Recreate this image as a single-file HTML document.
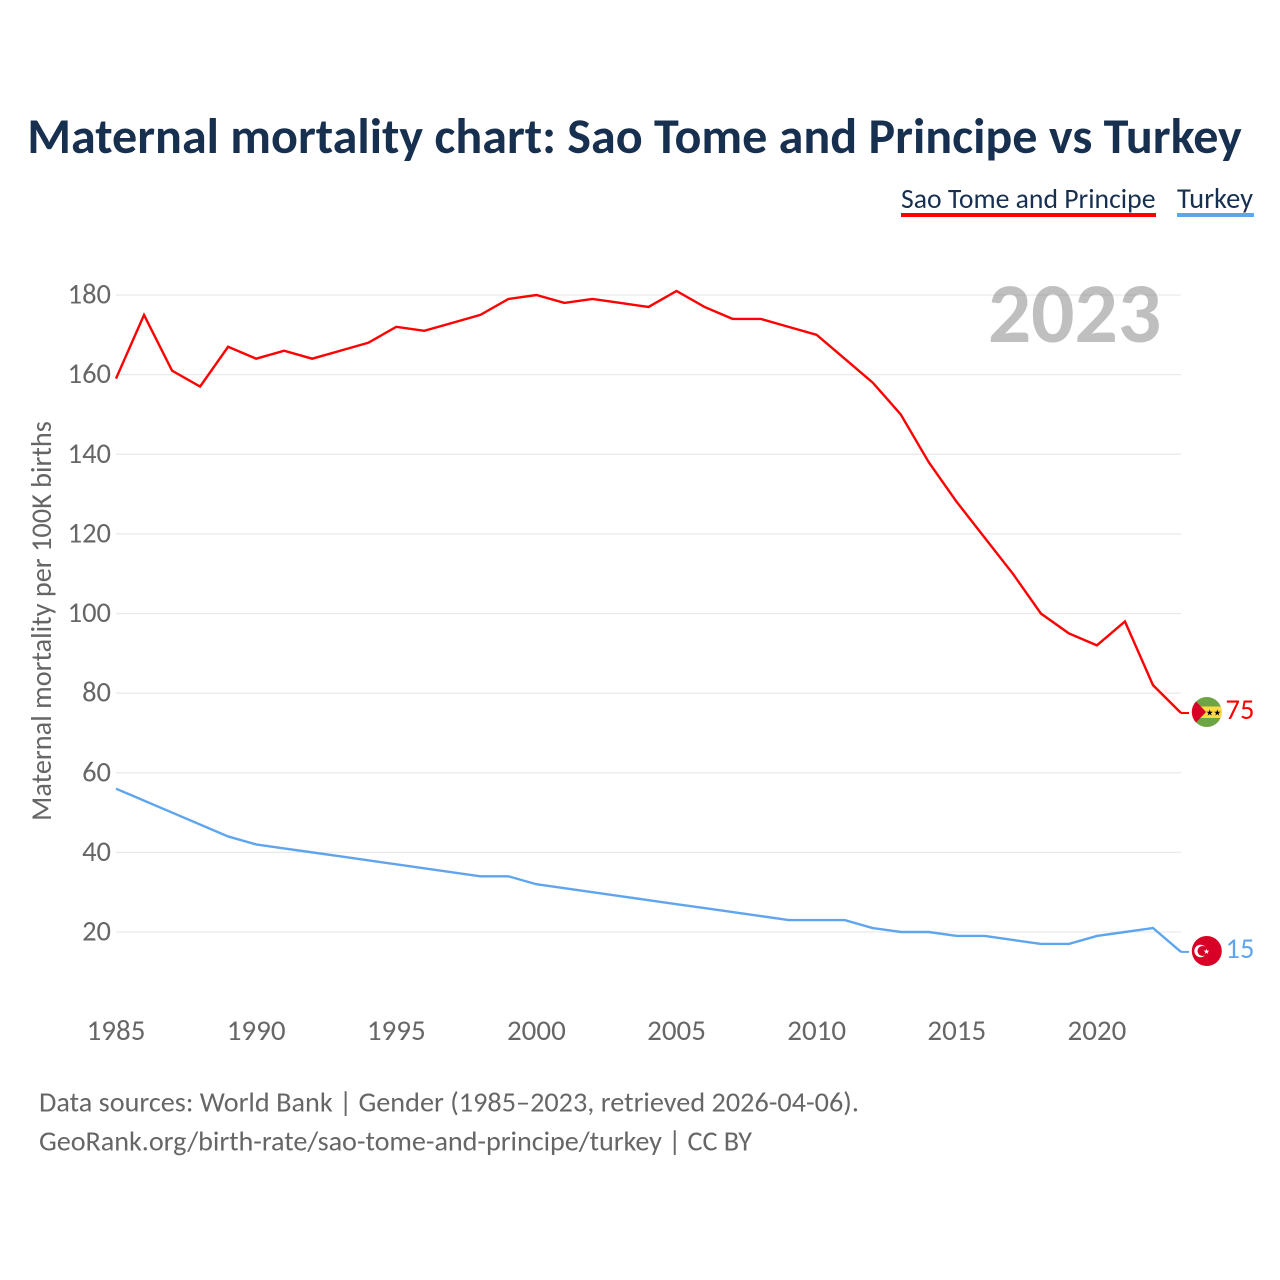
<!DOCTYPE html>
<html lang="en">
<head>
<meta charset="utf-8">
<title>Maternal mortality chart: Sao Tome and Principe vs Turkey</title>
<style>
html,body{margin:0;padding:0;background:#fff;}
svg{display:block;}
text{font-family:"Carlito","Lato","Liberation Sans",sans-serif;}
</style>
</head>
<body>
<svg id="chart" xmlns="http://www.w3.org/2000/svg" width="1280" height="1280" viewBox="0 0 1280 1280">
  <text x="634.500" y="153" text-anchor="middle" font-size="50.100" font-weight="700" fill="#17304f">Maternal mortality chart: Sao Tome and Principe vs Turkey</text>

  <text x="901" y="208" font-size="27.700" fill="#17304f">Sao Tome and Principe</text>
  <rect x="901" y="213" width="255" height="4" fill="#ff0000"/>
  <text x="1177" y="208" font-size="28.500" fill="#17304f">Turkey</text>
  <rect x="1177" y="213" width="77" height="4" fill="#5fa5ee"/>

  <g id="grid"></g>
  <g id="yticks"></g>
  <g id="xticks"></g>

  <text transform="translate(51 621) rotate(-90)" text-anchor="middle" font-size="28.300" fill="#666666">Maternal mortality per 100K births</text>

  <text x="1074.500" y="342" text-anchor="middle" font-size="85.500" font-weight="700" fill="#808080" fill-opacity="0.5">2023</text>

  <g id="series"></g>

  <g>
    <clipPath id="clip-st"><circle cx="1206.800" cy="712" r="15"/></clipPath>
    <g clip-path="url(#clip-st)">
      <rect x="1190" y="695" width="34" height="34" fill="#6da544"/>
      <rect x="1190" y="706.500" width="34" height="11.500" fill="#ffda44"/>
      <polygon points="1190,695 1206,712 1190,729" fill="#d80027"/>
      <text x="1213.500" y="715.500" text-anchor="middle" font-size="8.500" fill="#000" style="font-family:'DejaVu Sans',sans-serif">★★</text>
    </g>
  </g>
  <g>
    <circle cx="1206.800" cy="951" r="15" fill="#d80027"/>
    <circle cx="1200.500" cy="951" r="6.200" fill="#fff"/>
    <circle cx="1202.500" cy="951" r="5" fill="#d80027"/>
    <text x="1206.500" y="954" text-anchor="middle" font-size="7.500" fill="#fff" style="font-family:'DejaVu Sans',sans-serif">★</text>
  </g>

  <text id="end-st" x="1225.500" y="719" font-size="28.500" fill="#ff0000"></text>
  <text id="end-tr" x="1225.500" y="958" font-size="28.500" fill="#5fa5ee"></text>

  <text x="39" y="1111.500" font-size="28.200" textLength="820" lengthAdjust="spacing" fill="#666666">Data sources: World Bank | Gender (1985–2023, retrieved 2026-04-06).</text>
  <text x="39" y="1150.500" font-size="28.200" textLength="713" lengthAdjust="spacing" fill="#666666">GeoRank.org/birth-rate/sao-tome-and-principe/turkey | CC BY</text>
</svg>
<script>
const years = [1985,1986,1987,1988,1989,1990,1991,1992,1993,1994,1995,1996,1997,1998,1999,2000,2001,2002,2003,2004,2005,2006,2007,2008,2009,2010,2011,2012,2013,2014,2015,2016,2017,2018,2019,2020,2021,2022,2023];
const saoTomeValues = [159,175,161,157,167,164,166,164,166,168,172,171,173,175,179,180,178,179,178,177,181,177,174,174,172,170,164,158,150,138,128,119,110,100,95,92,98,82,75];
const turkeyValues = [56,53,50,47,44,42,41,40,39,38,37,36,35,34,34,32,31,30,29,28,27,26,25,24,23,23,23,21,20,20,19,19,18,17,17,19,20,21,15];
const yTickValues = [20,40,60,80,100,120,140,160,180];
const xTickValues = [1985,1990,1995,2000,2005,2010,2015,2020];

const NS = 'http://www.w3.org/2000/svg';
function xScale(year){ return 116 + (year - 1985) * (1181 - 116) / 38; }
function yScale(v){ return 932 - (v - 20) * (932 - 295) / 160; }

const grid = document.getElementById('grid');
const yticks = document.getElementById('yticks');
yTickValues.forEach(function(v){
  const line = document.createElementNS(NS, 'line');
  
  
  line.setAttribute('x1', 116);
  line.setAttribute('x2', 1181);
  line.setAttribute('y1', yScale(v));
  line.setAttribute('y2', yScale(v));
  line.setAttribute('stroke', '#e9e9e9');
  line.setAttribute('stroke-width', '1.3');
  grid.appendChild(line);
  const t = document.createElementNS(NS, 'text');
  
  
  t.setAttribute('x', 111);
  t.setAttribute('y', yScale(v) + 8.5);
  t.setAttribute('text-anchor', 'end');
  t.setAttribute('font-size', '28.500');
  t.setAttribute('fill', '#666666');
  t.textContent = v;
  yticks.appendChild(t);
});

const xticks = document.getElementById('xticks');
xTickValues.forEach(function(y){
  const t = document.createElementNS(NS, 'text');
  
  
  t.setAttribute('x', xScale(y));
  t.setAttribute('y', 1040);
  t.setAttribute('text-anchor', 'middle');
  t.setAttribute('font-size', '29');
  t.setAttribute('fill', '#666666');
  t.textContent = y;
  xticks.appendChild(t);
});

function linePoints(values){
  return values.map(function(v, i){ return xScale(years[i]) + ',' + yScale(v); }).join(' ');
}
const series = document.getElementById('series');
const lineTurkey = document.createElementNS(NS, 'polyline');


lineTurkey.setAttribute('points', linePoints(turkeyValues));
lineTurkey.setAttribute('fill', 'none');
lineTurkey.setAttribute('stroke', '#5fa5ee');
lineTurkey.setAttribute('stroke-width', '2.4');
series.appendChild(lineTurkey);
const lineSao = document.createElementNS(NS, 'polyline');


lineSao.setAttribute('points', linePoints(saoTomeValues));
lineSao.setAttribute('fill', 'none');
lineSao.setAttribute('stroke', '#ff0000');
lineSao.setAttribute('stroke-width', '2.4');
series.appendChild(lineSao);

[[saoTomeValues, '#ff0000'], [turkeyValues, '#5fa5ee']].forEach(function(pair){
  const last = pair[0][pair[0].length - 1];
  const stub = document.createElementNS(NS, 'line');
  
  
  stub.setAttribute('x1', 1181);
  stub.setAttribute('x2', 1189);
  stub.setAttribute('y1', yScale(last));
  stub.setAttribute('y2', yScale(last));
  stub.setAttribute('stroke', pair[1]);
  stub.setAttribute('stroke-width', '2');
  series.appendChild(stub);
});
document.getElementById('end-st').textContent = saoTomeValues[saoTomeValues.length - 1];
document.getElementById('end-tr').textContent = turkeyValues[turkeyValues.length - 1];
</script>
</body>
</html>
